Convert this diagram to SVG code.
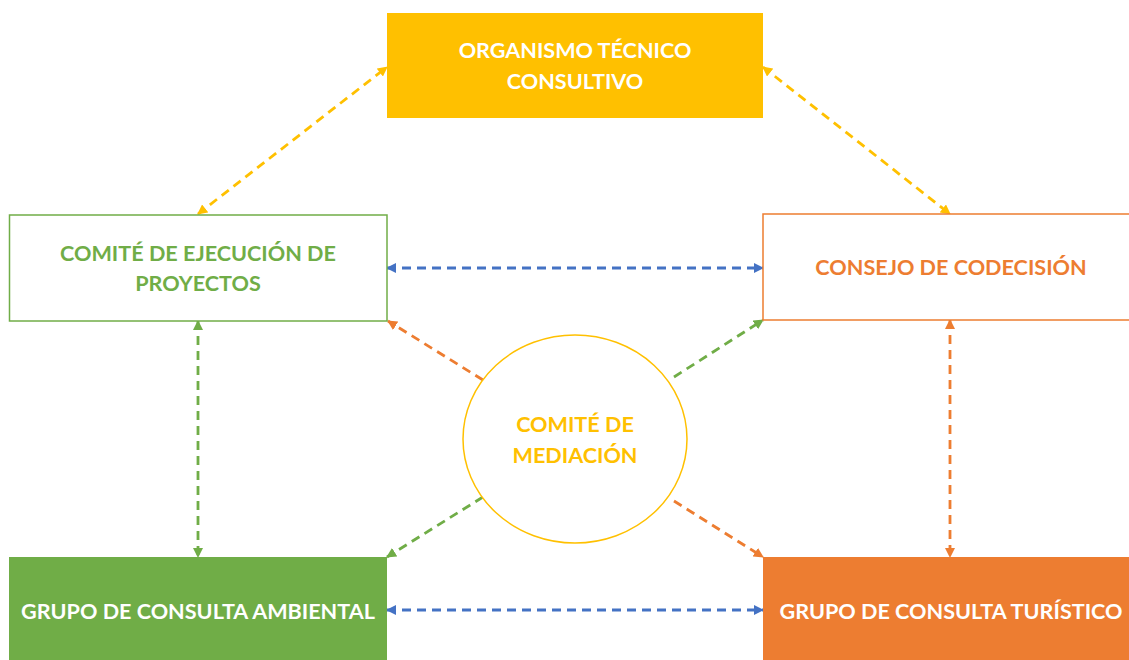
<svg xmlns="http://www.w3.org/2000/svg" width="1129" height="660" viewBox="0 0 1129 660">
<style>
text{font-family:Lato,"Open Sans","Liberation Sans",sans-serif;font-weight:bold;font-size:21.6px;text-anchor:middle}
.c{fill:none;stroke-width:2.8;stroke-dasharray:9 6}
</style>
<defs>
<marker id="aY" viewBox="0 0 10 10" refX="9" refY="5" markerWidth="3.6" markerHeight="3.6" orient="auto-start-reverse"><path d="M0,0L10,5L0,10z" fill="#FFC000"/></marker>
<marker id="aB" viewBox="0 0 10 10" refX="9" refY="5" markerWidth="3.6" markerHeight="3.6" orient="auto-start-reverse"><path d="M0,0L10,5L0,10z" fill="#4472C4"/></marker>
<marker id="aG" viewBox="0 0 10 10" refX="9" refY="5" markerWidth="3.6" markerHeight="3.6" orient="auto-start-reverse"><path d="M0,0L10,5L0,10z" fill="#70AD47"/></marker>
<marker id="aO" viewBox="0 0 10 10" refX="9" refY="5" markerWidth="3.6" markerHeight="3.6" orient="auto-start-reverse"><path d="M0,0L10,5L0,10z" fill="#ED7D31"/></marker>
</defs>
<rect width="1129" height="660" fill="#fff"/>
<g id="connectors">
<line class="c" x1="198" y1="214" x2="387" y2="67" stroke="#FFC000" marker-start="url(#aY)" marker-end="url(#aY)"/>
<line class="c" x1="763" y1="67" x2="950" y2="214" stroke="#FFC000" marker-start="url(#aY)" marker-end="url(#aY)"/>
<line class="c" x1="387" y1="268" x2="763" y2="268" stroke="#4472C4" marker-start="url(#aB)" marker-end="url(#aB)"/>
<line class="c" x1="387" y1="610" x2="763" y2="610" stroke="#4472C4" marker-start="url(#aB)" marker-end="url(#aB)"/>
<line class="c" x1="198" y1="321" x2="198" y2="557" stroke="#70AD47" marker-start="url(#aG)" marker-end="url(#aG)"/>
<line class="c" x1="950" y1="320" x2="950" y2="557" stroke="#ED7D31" marker-start="url(#aO)" marker-end="url(#aO)"/>
<line class="c" x1="483" y1="380" x2="388" y2="321" stroke="#ED7D31" marker-end="url(#aO)"/>
<line class="c" x1="674" y1="377" x2="763" y2="320" stroke="#70AD47" marker-end="url(#aG)"/>
<line class="c" x1="483" y1="497" x2="387" y2="557" stroke="#70AD47" marker-end="url(#aG)"/>
<line class="c" x1="674" y1="501" x2="763" y2="557" stroke="#ED7D31" marker-end="url(#aO)"/>
</g>
<g id="organismo">
<rect x="387" y="13" width="376" height="105" fill="#FFC000"/>
<text x="575" y="58" fill="#fff">ORGANISMO TÉCNICO</text>
<text x="575" y="89" fill="#fff">CONSULTIVO</text>
</g>
<g id="ejecucion">
<rect x="9.5" y="215" width="377.5" height="106" fill="#fff" stroke="#70AD47" stroke-width="1.5"/>
<text x="198" y="261" fill="#70AD47">COMITÉ DE EJECUCIÓN DE</text>
<text x="198" y="291" fill="#70AD47">PROYECTOS</text>
</g>
<g id="codecision">
<rect x="763" y="214" width="380" height="106" fill="#fff" stroke="#ED7D31" stroke-width="1.5"/>
<text x="951" y="275" fill="#ED7D31">CONSEJO DE CODECISIÓN</text>
</g>
<g id="mediacion">
<ellipse cx="575" cy="439" rx="112" ry="104" fill="#fff" stroke="#FFC000" stroke-width="1.5"/>
<text x="575" y="432" fill="#FFC000">COMITÉ DE</text>
<text x="575" y="463" fill="#FFC000">MEDIACIÓN</text>
</g>
<g id="ambiental">
<rect x="9" y="557" width="378" height="110" fill="#70AD47"/>
<text x="198" y="619" fill="#fff">GRUPO DE CONSULTA AMBIENTAL</text>
</g>
<g id="turistico">
<rect x="763" y="557" width="380" height="110" fill="#ED7D31"/>
<text x="951" y="619" fill="#fff">GRUPO DE CONSULTA TURÍSTICO</text>
</g>
</svg>
